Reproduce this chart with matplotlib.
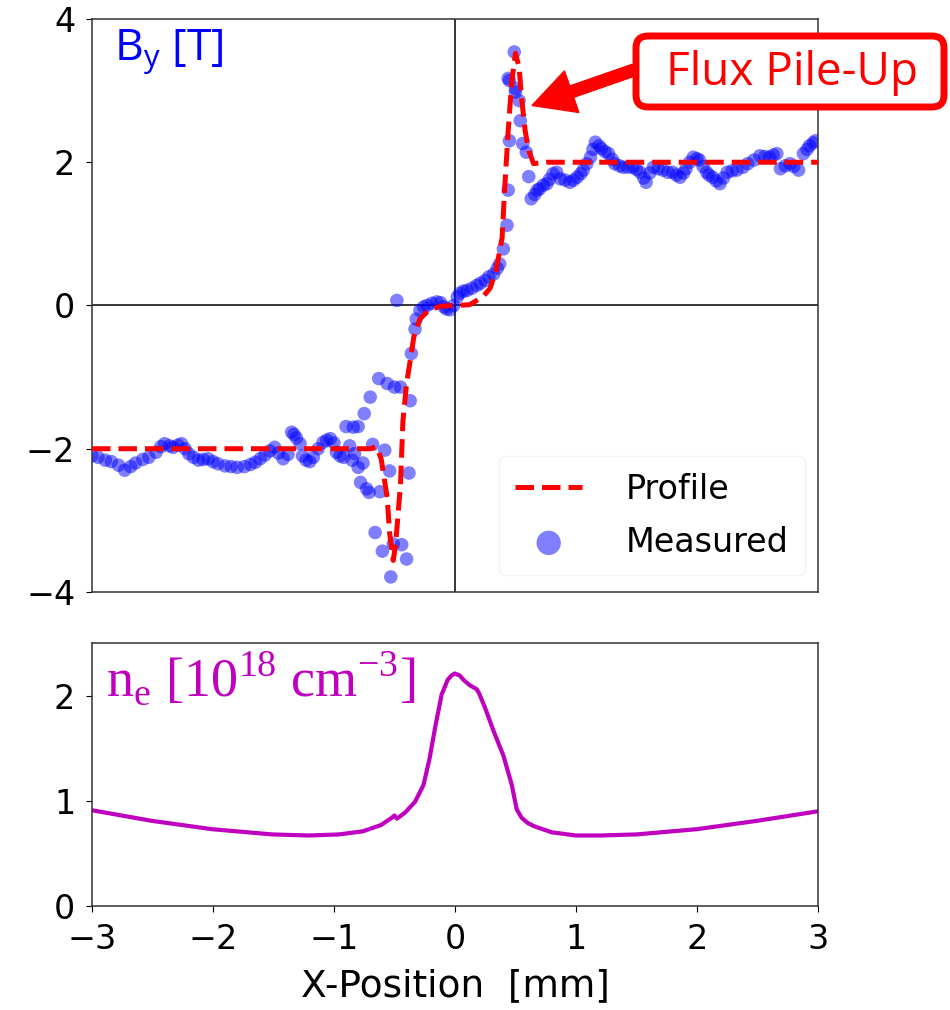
import numpy as np
import matplotlib
matplotlib.use("Agg")
import matplotlib.pyplot as plt
from matplotlib.patches import FancyBboxPatch, FancyArrow

# measured B_y [T] vs x [mm]
meas_x = [-3.00, -2.95, -2.89, -2.84, -2.78, -2.73, -2.68, -2.64, -2.58, -2.53,
          -2.47, -2.43, -2.40, -2.36, -2.33, -2.29, -2.26, -2.23, -2.20, -2.16,
          -2.12, -2.08, -2.04, -2.00, -1.96, -1.90, -1.85, -1.80, -1.74, -1.69,
          -1.65, -1.61, -1.57, -1.53, -1.49, -1.46, -1.42, -1.38, -1.35, -1.33,
          -1.31, -1.28, -1.26, -1.23, -1.20, -1.17, -1.13, -1.09, -1.06, -1.03,
          -1.00, -0.98, -0.95, -0.92, -0.90, -0.87, -0.85, -0.84, -0.83, -0.80,
          -0.80, -0.76, -0.78, -0.75, -0.73, -0.71, -0.70, -0.68, -0.66, -0.63,
          -0.62, -0.60, -0.58, -0.56, -0.54, -0.53, -0.51, -0.50, -0.48, -0.45,
          -0.44, -0.40, -0.38, -0.37, -0.36, -0.33, -0.32, -0.29, -0.26, -0.23,
          -0.19, -0.15, -0.12, -0.09, -0.07, -0.04, -0.01, 0.02, 0.04, 0.07,
          0.10, 0.14, 0.18, 0.21, 0.25, 0.28, 0.32, 0.35, 0.37, 0.40,
          0.43, 0.44, 0.44, 0.45, 0.45, 0.49, 0.50, 0.50, 0.53, 0.54,
          0.56, 0.59, 0.61, 0.63, 0.66, 0.68, 0.70, 0.73, 0.76, 0.78,
          0.81, 0.84, 0.87, 0.91, 0.95, 0.98, 1.01, 1.04, 1.06, 1.09,
          1.12, 1.14, 1.16, 1.19, 1.21, 1.24, 1.27, 1.30, 1.32, 1.36,
          1.39, 1.43, 1.47, 1.50, 1.53, 1.56, 1.58, 1.61, 1.64, 1.68,
          1.72, 1.76, 1.80, 1.83, 1.86, 1.89, 1.91, 1.94, 1.97, 2.00,
          2.02, 2.05, 2.08, 2.10, 2.13, 2.16, 2.19, 2.22, 2.25, 2.29,
          2.33, 2.38, 2.42, 2.47, 2.52, 2.56, 2.60, 2.63, 2.66, 2.69,
          2.73, 2.77, 2.80, 2.84, 2.88, 2.91, 2.93, 2.96, 2.98]
meas_y = [-2.10, -2.12, -2.16, -2.18, -2.23, -2.30, -2.25, -2.20, -2.15, -2.12,
          -2.05, -1.97, -1.93, -1.96, -1.98, -1.95, -1.93, -2.00, -2.07, -2.12,
          -2.16, -2.15, -2.14, -2.18, -2.21, -2.24, -2.25, -2.26, -2.25, -2.22,
          -2.19, -2.14, -2.09, -2.03, -1.98, -2.06, -2.14, -2.08, -1.77, -1.80,
          -1.85, -1.93, -2.10, -2.16, -2.18, -2.12, -2.00, -1.91, -1.88, -1.86,
          -1.92, -2.05, -2.10, -2.12, -1.69, -1.96, -2.16, -1.70, -2.07, -2.26,
          -1.69, -2.20, -2.47, -1.51, -2.56, -2.61, -1.28, -1.94, -3.17, -1.02,
          -2.60, -3.43, -2.02, -1.09, -2.31, -3.79, -3.33, -1.14, 0.07, -1.14,
          -3.34, -3.54, -2.34, -1.33, -0.67, -0.33, -0.19, -0.07, -0.02, 0.00,
          0.03, 0.05, 0.04, -0.02, -0.05, -0.06, 0.00, 0.12, 0.17, 0.20,
          0.21, 0.24, 0.28, 0.31, 0.35, 0.40, 0.44, 0.52, 0.58, 0.79,
          1.12, 1.61, 3.17, 2.30, 3.14, 3.54, 3.03, 2.98, 2.86, 2.58,
          2.26, 2.14, 1.80, 1.49, 1.55, 1.61, 1.63, 1.68, 1.70, 1.76,
          1.84, 1.86, 1.77, 1.75, 1.72, 1.75, 1.79, 1.84, 1.89, 1.98,
          2.07, 2.18, 2.28, 2.23, 2.19, 2.15, 2.12, 2.04, 1.98, 1.95,
          1.93, 1.93, 1.93, 1.90, 1.86, 1.78, 1.72, 1.85, 1.93, 1.91,
          1.89, 1.86, 1.86, 1.82, 1.79, 1.85, 1.91, 2.00, 2.07, 2.05,
          2.03, 1.94, 1.86, 1.82, 1.79, 1.74, 1.70, 1.78, 1.86, 1.88,
          1.89, 1.93, 1.98, 2.03, 2.09, 2.08, 2.07, 2.10, 2.12, 1.91,
          1.95, 1.98, 1.94, 1.89, 2.12, 2.18, 2.23, 2.27, 2.30]

# model profile
prof_x = [-3.00, -0.70, -0.65, -0.61, -0.56, -0.54, -0.51, -0.49, -0.45, -0.43,
          -0.40, -0.37, -0.34, -0.29, -0.22, -0.12, 0.00, 0.12, 0.23, 0.29,
          0.34, 0.39, 0.41, 0.44, 0.47, 0.50, 0.53, 0.55, 0.58, 0.61,
          0.65, 0.76, 3.00]
prof_y = [-2.00, -2.00, -1.97, -2.14, -2.68, -3.18, -3.56, -3.33, -2.49, -1.61,
          -1.09, -0.77, -0.44, -0.19, -0.07, -0.01, 0.00, 0.01, 0.12, 0.24,
          0.49, 0.95, 1.61, 2.44, 3.14, 3.52, 3.33, 2.91, 2.44, 2.16,
          1.98, 2.00, 2.00]

# electron density [1e18 cm^-3]
ne_x = [-3.00, -2.51, -2.01, -1.51, -1.21, -0.96, -0.76, -0.61, -0.52, -0.50,
        -0.48, -0.41, -0.33, -0.26, -0.21, -0.16, -0.11, -0.06, -0.03, 0.00,
        0.04, 0.07, 0.12, 0.15, 0.18, 0.20, 0.25, 0.32, 0.40, 0.47,
        0.51, 0.55, 0.60, 0.65, 0.80, 1.00, 1.20, 1.50, 2.00, 2.50, 3.00]
ne_y = [0.91, 0.81, 0.73, 0.68, 0.67, 0.68, 0.71, 0.77, 0.84, 0.86,
        0.83, 0.89, 0.99, 1.15, 1.40, 1.72, 2.01, 2.15, 2.19, 2.21,
        2.19, 2.15, 2.10, 2.08, 2.06, 2.02, 1.88, 1.66, 1.43, 1.15,
        0.92, 0.84, 0.79, 0.76, 0.70, 0.67, 0.67, 0.68, 0.73, 0.81, 0.90]

plt.rcParams['font.family'] = ['DejaVu Sans']
plt.rcParams['axes.edgecolor'] = '#333333'

fig = plt.figure(figsize=(9.5, 10.1), dpi=100)
ax1 = fig.add_axes([0.0968, 0.4139, 0.7642, 0.5673])
ax2 = fig.add_axes([0.0968, 0.1030, 0.7642, 0.2604])

# top panel: B_y
ax1.axhline(0, color='black', lw=1.1, zorder=1)
ax1.axvline(0, color='black', lw=1.1, zorder=1)
ax1.scatter(meas_x, meas_y, s=95, color='blue', alpha=0.5, edgecolors='none',
            label='Measured', zorder=2)
ax1.plot(prof_x, prof_y, '--', color='red', lw=3.6, label='Profile', zorder=3)
ax1.set_xlim(-3, 3)
ax1.set_ylim(-4, 4)
ax1.set_yticks([-4, -2, 0, 2, 4])
ax1.tick_params(axis='y', labelsize=24, length=4, pad=8)
ax1.tick_params(axis='x', bottom=False, labelbottom=False)
ax1.text(0.03, 0.985, r'B$_\mathregular{y}$ [T]', transform=ax1.transAxes,
         color='blue', fontsize=32, family='Open Sans', va='top', ha='left')

handles, labels = ax1.get_legend_handles_labels()
leg = ax1.legend(handles[::-1], labels[::-1], loc='lower right',
                 bbox_to_anchor=(1.005, 0.0), fontsize=24, markerscale=1.8,
                 frameon=True, framealpha=0.4, edgecolor='#e2e2e2',
                 borderpad=0.5, labelspacing=0.6, handletextpad=1.3)

# bottom panel: n_e
ax2.plot(ne_x, ne_y, color='#bf00bf', lw=3)
ax2.set_xlim(-3, 3)
ax2.set_ylim(0, 2.5)
ax2.set_yticks([0, 1, 2])
ax2.set_xticks([-3, -2, -1, 0, 1, 2, 3])
ax2.tick_params(labelsize=24, length=4, pad=8)
ax2.set_xlabel('X-Position  [mm]', fontsize=27, labelpad=9)
ax2.text(0.02, 0.97, r'n$_\mathregular{e}$ [10$^\mathregular{18}$ cm$^\mathregular{-3}$]',
         transform=ax2.transAxes, color='#bf00bf', fontsize=39,
         family='Liberation Serif', va='top', ha='left')

for ax in (ax1, ax2):
    for sp in ax.spines.values():
        sp.set_linewidth(1.1)

# "Flux Pile-Up" callout
box = FancyBboxPatch((6.36, 9.03), 3.08, 0.71,
                     boxstyle='round,pad=0,rounding_size=0.12',
                     transform=fig.dpi_scale_trans, facecolor='white',
                     edgecolor='red', lw=5, clip_on=False)
fig.patches.append(box)
fig.text(7.92, 9.375, 'Flux Pile-Up', transform=fig.dpi_scale_trans,
         color='red', fontsize=33, family='Open Sans', ha='center', va='center')
arrow = FancyArrow(6.34, 9.40, -1.02, -0.355, width=0.12, head_width=0.44,
                   head_length=0.42, length_includes_head=True,
                   transform=fig.dpi_scale_trans, color='red', clip_on=False)
fig.patches.append(arrow)

fig.savefig('out.png', dpi=100)
